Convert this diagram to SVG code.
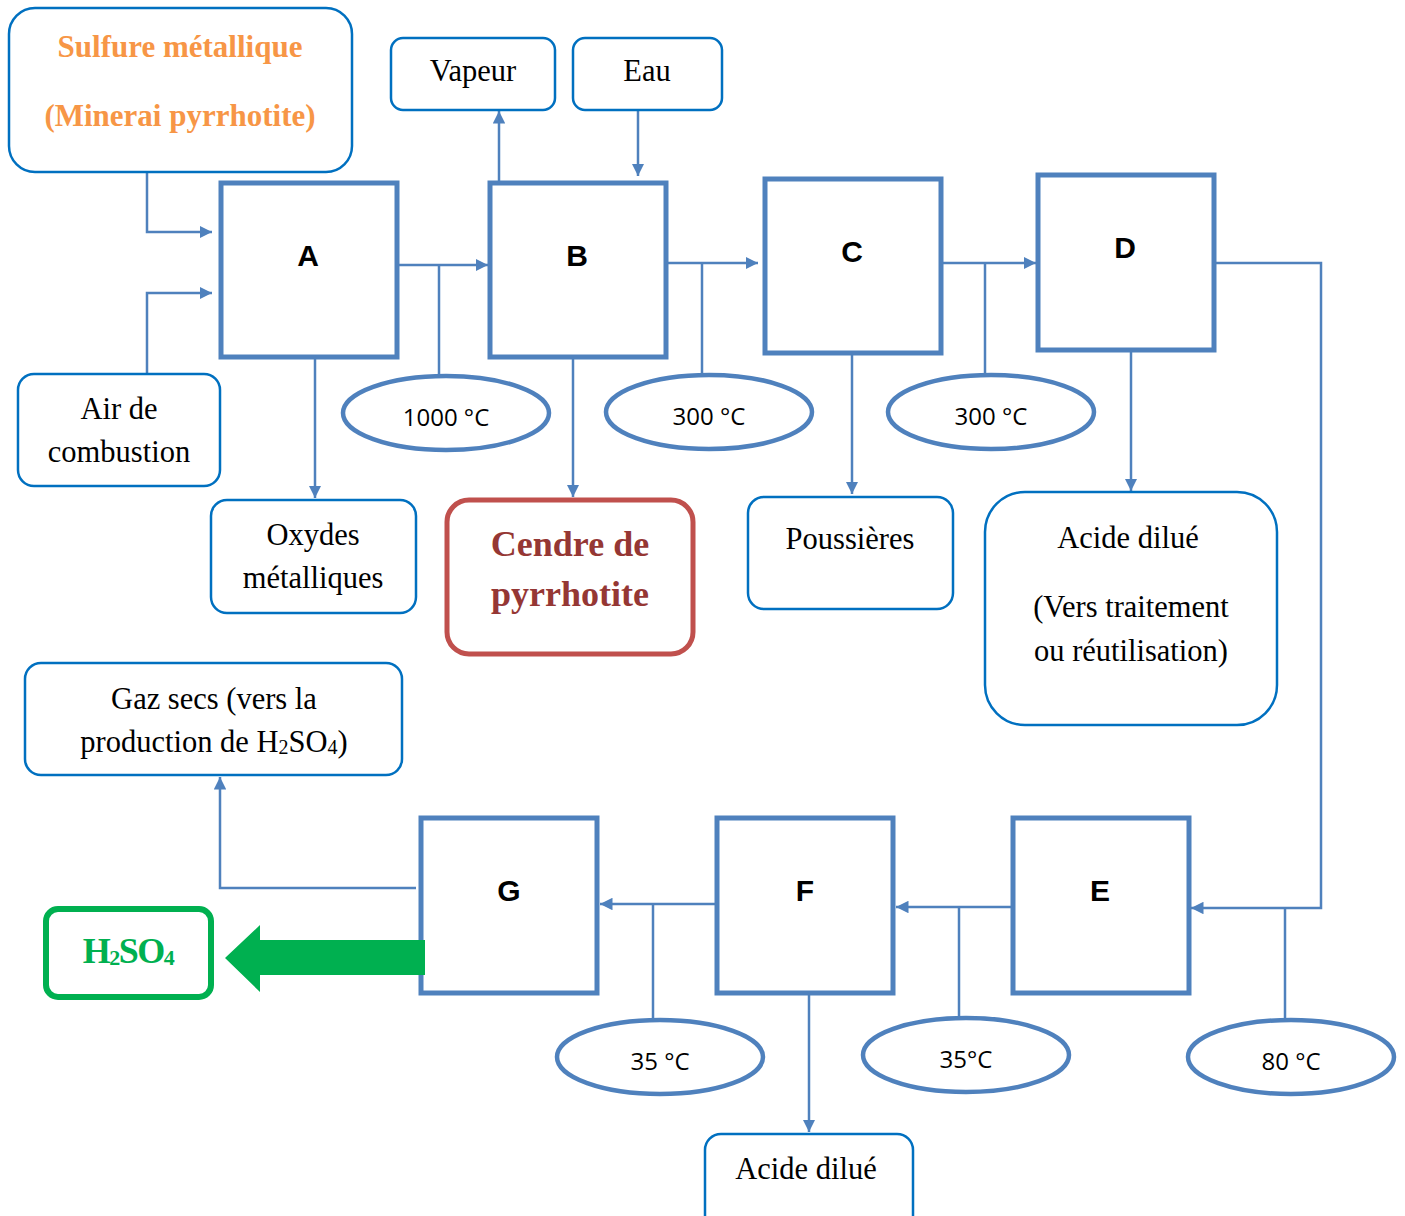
<svg xmlns="http://www.w3.org/2000/svg" width="1405" height="1216" viewBox="0 0 1405 1216">
<defs>
<marker id="ah" viewBox="0 0 10 10" refX="10" refY="5" markerWidth="5" markerHeight="5" orient="auto" markerUnits="strokeWidth">
<path d="M0,0 L10,5 L0,10 Z" fill="#4F81BD"/>
</marker>
<style>
.proc{fill:#fff;stroke:#4F81BD;stroke-width:5}
.rb{fill:#fff;stroke:#0070C0;stroke-width:2.5}
.el{fill:#fff;stroke:#4F81BD;stroke-width:4.5}
.ln{fill:none;stroke:#4F81BD;stroke-width:2.5}
.arr{fill:none;stroke:#4F81BD;stroke-width:2.5;marker-end:url(#ah)}
.t{font-family:"Liberation Serif","Times New Roman",serif;font-size:30.5px;fill:#000;text-anchor:middle}
.L{font-family:"Liberation Sans",Arial,sans-serif;font-weight:bold;font-size:30px;fill:#000;text-anchor:middle}
.tc{font-family:"Open Sans","Liberation Sans",sans-serif;font-size:24px;fill:#000;text-anchor:middle}
</style>
</defs>
<g id="connectors">
<polyline class="arr" points="147,172 147,232 212,232"/>
<polyline class="arr" points="147,374 147,293 212,293"/>
<line class="arr" x1="398" y1="265" x2="488" y2="265"/>
<line class="ln" x1="439" y1="265" x2="439" y2="376"/>
<line class="arr" x1="499" y1="182" x2="499" y2="111"/>
<line class="arr" x1="638" y1="110" x2="638" y2="176"/>
<line class="arr" x1="666" y1="263" x2="758" y2="263"/>
<line class="ln" x1="702" y1="263" x2="702" y2="374"/>
<line class="arr" x1="941" y1="263" x2="1036" y2="263"/>
<line class="ln" x1="985" y1="263" x2="985" y2="374"/>
<polyline class="arr" points="1214,263 1321,263 1321,908 1191,908"/>
<line class="ln" x1="1285" y1="908" x2="1285" y2="1019"/>
<line class="arr" x1="315" y1="357" x2="315" y2="498"/>
<line class="arr" x1="573" y1="357" x2="573" y2="497"/>
<line class="arr" x1="852" y1="353" x2="852" y2="494"/>
<line class="arr" x1="1131" y1="350" x2="1131" y2="491"/>
<line class="arr" x1="1012" y1="907" x2="896" y2="907"/>
<line class="ln" x1="959" y1="907" x2="959" y2="1018"/>
<line class="arr" x1="716" y1="904" x2="600" y2="904"/>
<line class="ln" x1="653" y1="904" x2="653" y2="1019"/>
<polyline class="arr" points="416,888 220,888 220,777"/>
<line class="arr" x1="809" y1="993" x2="809" y2="1132"/>
</g>
<g id="sulfure">
<rect class="rb" x="9" y="8" width="343" height="164" rx="26"/>
<text class="t" x="180" y="57" style="font-weight:bold;fill:#F79646;font-size:31px">Sulfure métallique</text>
<text class="t" x="180" y="126" style="font-weight:bold;fill:#F79646;font-size:31px">(Minerai pyrrhotite)</text>
</g>
<g id="vapeur">
<rect class="rb" x="391" y="38" width="164" height="72" rx="12"/>
<text class="t" x="473" y="81">Vapeur</text>
</g>
<g id="eau">
<rect class="rb" x="573" y="38" width="149" height="72" rx="12"/>
<text class="t" x="647" y="81">Eau</text>
</g>
<g id="A"><rect class="proc" x="221" y="183" width="176" height="174"/><text class="L" x="308" y="266">A</text></g>
<g id="B"><rect class="proc" x="490" y="183" width="176" height="174"/><text class="L" x="577" y="266">B</text></g>
<g id="C"><rect class="proc" x="765" y="179" width="176" height="174"/><text class="L" x="852" y="262">C</text></g>
<g id="D"><rect class="proc" x="1038" y="175" width="176" height="175"/><text class="L" x="1125" y="258">D</text></g>
<g id="air">
<rect class="rb" x="18" y="374" width="202" height="112" rx="16"/>
<text class="t" x="119" y="419">Air de</text>
<text class="t" x="119" y="462">combustion</text>
</g>
<g id="t1000"><ellipse class="el" cx="446" cy="413" rx="103" ry="37"/><text class="tc" x="446" y="426">1000 °C</text></g>
<g id="t300a"><ellipse class="el" cx="709" cy="412" rx="103" ry="37"/><text class="tc" x="709" y="425">300 °C</text></g>
<g id="t300b"><ellipse class="el" cx="991" cy="412" rx="103" ry="37"/><text class="tc" x="991" y="425">300 °C</text></g>
<g id="oxydes">
<rect class="rb" x="211" y="500" width="205" height="113" rx="16"/>
<text class="t" x="313" y="545">Oxydes</text>
<text class="t" x="313" y="588">métalliques</text>
</g>
<g id="cendre">
<rect x="447" y="500" width="246" height="154" rx="22" fill="#fff" stroke="#C0504D" stroke-width="5"/>
<text class="t" x="570" y="556" style="font-weight:bold;fill:#953734;font-size:36px">Cendre de</text>
<text class="t" x="570" y="606" style="font-weight:bold;fill:#953734;font-size:36px">pyrrhotite</text>
</g>
<g id="poussieres">
<rect class="rb" x="748" y="497" width="205" height="112" rx="16"/>
<text class="t" x="850" y="549">Poussières</text>
</g>
<g id="acide1">
<rect class="rb" x="985" y="492" width="292" height="233" rx="40"/>
<text class="t" x="1128" y="548">Acide dilué</text>
<text class="t" x="1131" y="617">(Vers traitement</text>
<text class="t" x="1131" y="661">ou réutilisation)</text>
</g>
<g id="gaz">
<rect class="rb" x="25" y="663" width="377" height="112" rx="16"/>
<text class="t" x="214" y="709">Gaz secs (vers la</text>
<text class="t" x="214" y="752">production de H<tspan font-size="20" dy="2">2</tspan><tspan dy="-2">SO</tspan><tspan font-size="20" dy="2">4</tspan><tspan dy="-2">)</tspan></text>
</g>
<g id="G"><rect class="proc" x="421" y="818" width="176" height="175"/><text class="L" x="509" y="901">G</text></g>
<g id="F"><rect class="proc" x="717" y="818" width="176" height="175"/><text class="L" x="805" y="901">F</text></g>
<g id="E"><rect class="proc" x="1013" y="818" width="176" height="175"/><text class="L" x="1100" y="901">E</text></g>
<g id="h2so4">
<rect x="46" y="909" width="165" height="88" rx="12" fill="#fff" stroke="#00B050" stroke-width="6"/>
<text class="t" x="128" y="963" style="font-weight:bold;fill:#00B050;font-size:36px;letter-spacing:-1.5px">H<tspan font-size="22" dy="2">2</tspan><tspan dy="-2">SO</tspan><tspan font-size="22" dy="2">4</tspan></text>
</g>
<g id="bigarrow">
<path d="M425,940 L260,940 L260,925 L225,958 L260,992 L260,975 L425,975 Z" fill="#00B050"/>
</g>
<g id="t35a"><ellipse class="el" cx="660" cy="1057" rx="103" ry="37"/><text class="tc" x="660" y="1070">35 °C</text></g>
<g id="t35b"><ellipse class="el" cx="966" cy="1055" rx="103" ry="37"/><text class="tc" x="966" y="1068">35°C</text></g>
<g id="t80"><ellipse class="el" cx="1291" cy="1057" rx="103" ry="37"/><text class="tc" x="1291" y="1070">80 °C</text></g>
<g id="acide2">
<rect class="rb" x="705" y="1134" width="208" height="100" rx="16"/>
<text class="t" x="806" y="1179">Acide dilué</text>
</g>
</svg>
